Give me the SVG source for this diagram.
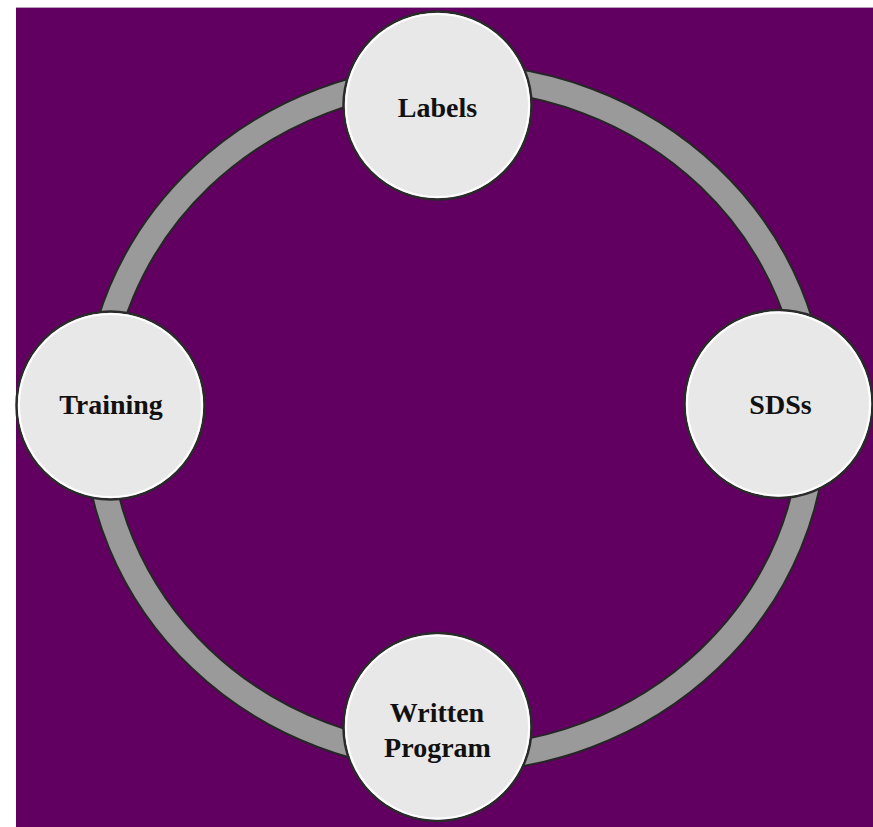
<svg xmlns="http://www.w3.org/2000/svg" width="873" height="827" viewBox="0 0 873 827">
<style>
.node-out{fill:#e8e8e8;stroke:#2a2a2a;stroke-width:2.5}
.node-hl{fill:none;stroke:#ffffff;stroke-width:2}
.lbl{font-family:"Liberation Serif","Times New Roman",serif;font-weight:bold;font-size:28px;fill:#111;text-anchor:middle}
</style>
<rect x="0" y="0" width="873" height="827" fill="#ffffff"/>
<rect x="16" y="7" width="857" height="820" fill="#610060"/>
<line x1="16" y1="7.5" x2="873" y2="7.5" stroke="#b8a0b8" stroke-width="1"/>
<g id="connectors">
<ellipse cx="455" cy="418" rx="359" ry="341" fill="none" stroke="#262626" stroke-width="28"/>
<ellipse cx="455" cy="418" rx="359" ry="341" fill="none" stroke="#9a9a9a" stroke-width="24"/>
</g>
<g id="labels">
<circle class="node-out" cx="437.5" cy="105.5" r="94"/>
<circle class="node-hl" cx="437.5" cy="105.5" r="91.5"/>
<text class="lbl" x="437.5" y="117">Labels</text>
</g>
<g id="training">
<circle class="node-out" cx="110.5" cy="405.5" r="94"/>
<circle class="node-hl" cx="110.5" cy="405.5" r="91.5"/>
<text class="lbl" x="111" y="414">Training</text>
</g>
<g id="sdss">
<circle class="node-out" cx="778.5" cy="404" r="94"/>
<circle class="node-hl" cx="778.5" cy="404" r="91.5"/>
<text class="lbl" x="780.5" y="414">SDSs</text>
</g>
<g id="written-program">
<circle class="node-out" cx="437.5" cy="727" r="94"/>
<circle class="node-hl" cx="437.5" cy="727" r="91.5"/>
<text class="lbl" x="437" y="722">Written</text>
<text class="lbl" x="437.5" y="757">Program</text>
</g>
</svg>
